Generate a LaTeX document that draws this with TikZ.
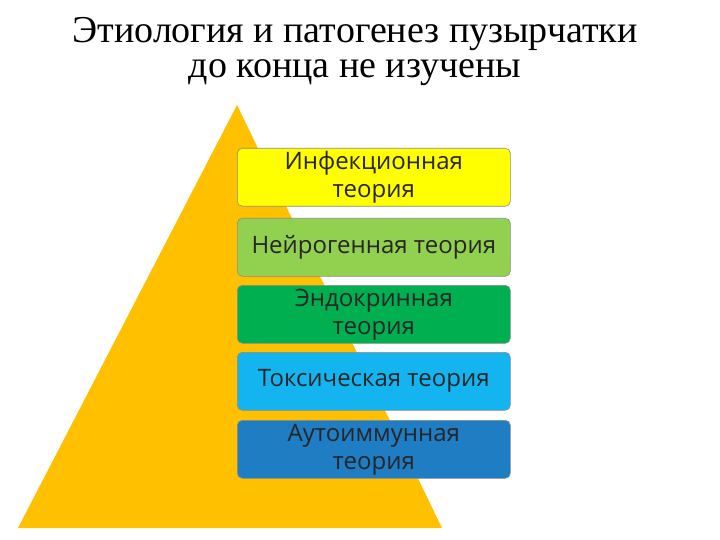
\documentclass[tikz,border=0pt]{standalone}
\usepackage{fontspec}
\setmainfont{Liberation Serif}
\newfontfamily\boxfont{Open Sans}
\begin{document}
\begin{tikzpicture}[x=1pt,y=-1pt,
  tbox/.style={draw=black!45,rounded corners=5pt,line width=0.6pt,minimum width=273pt,minimum height=58pt,align=center,anchor=north west,font=\boxfont\fontsize{24}{28}\selectfont,text=black!85,inner sep=0pt},
  ttl/.style={font=\fontsize{38}{44}\selectfont}]
\useasboundingbox (0,0) rectangle (720,540);
\fill[white] (0,0) rectangle (720,540);
\fill[color={rgb,255:red,255;green,192;blue,0}] (237,105) -- (442,528) -- (18,528) -- cycle;
\node[ttl] (t1) at (355,34) {Этиология и патогенез пузырчатки};
\node[ttl] (t2) at (355,73) {до конца не изучены};
\node[tbox,fill={rgb,255:red,255;green,255;blue,0}] (b1) at (237,148) {Инфекционная\\теория};
\node[tbox,fill={rgb,255:red,146;green,208;blue,80}] (b2) at (237,218) {Нейрогенная теория};
\node[tbox,fill={rgb,255:red,0;green,176;blue,80}] (b3) at (237,285) {Эндокринная\\теория};
\node[tbox,fill={rgb,255:red,20;green,180;blue,240}] (b4) at (237,352) {Токсическая теория};
\node[tbox,fill={rgb,255:red,30;green,125;blue,195}] (b5) at (237,420) {Аутоиммунная\\теория};
\end{tikzpicture}
\end{document}
